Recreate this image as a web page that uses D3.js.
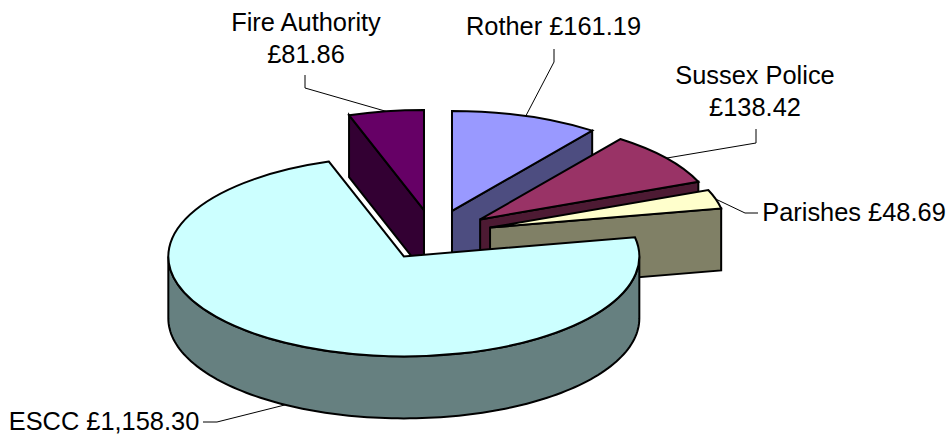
<!DOCTYPE html>
<html>
<head>
<meta charset="utf-8">
<script src="https://cdn.jsdelivr.net/npm/d3@7"></script>
<style>
    html, body { margin: 0; padding: 0; background: #fff; }
    text { font-family: "Liberation Sans", Arial, sans-serif; font-size: 25.4px; fill: #000; }
</style>
</head>
<body>
<div id="chart"></div>
<script>
const names = ['Rother', 'Sussex Police', 'Parishes', 'ESCC', 'Fire Authority'];
const values = [161.19, 138.42, 48.69, 1158.30, 81.86];
const topColors = ['#9999ff', '#993366', '#ffffcc', '#ccffff', '#660066'];
const sideColors = ['#4d4d80', '#4d1a33', '#808066', '#668080', '#330033'];

// label lines (one entry per slice) and where the leader bends
const labelLines = [
    ['Rother £161.19'],
    ['Sussex Police', '£138.42'],
    ['Parishes £48.69'],
    ['ESCC £1,158.30'],
    ['Fire Authority', '£81.86']
];
const labelPos = [[553.5, 35], [755, 84], [854, 221], [104, 430], [306, 31]];
const leaderBends = [
    [[554, 49], [554, 62]],
    [[756, 129], [756, 143]],
    [[758, 213], [745, 213]],
    [[203, 422], [217, 422]],
    [[305, 75], [305, 88]]
];

const width = 949;
const height = 435;
const cx = 433.5;
const cy = 234.75;
const rx = 235.5;
const ry = 100;
const depth = 62;
const explode = 59;
const tilt = ry / rx;

const svg = d3.select('#chart')
    .append('svg')
    .attr('width', width)
    .attr('height', height);

const slices = d3.pie().sort(null).startAngle(0).endAngle(2 * Math.PI)(values)
    .map((d, i) => {
        const mid = (d.startAngle + d.endAngle) / 2;
        // exploded apex of the slice
        d.ox = cx + explode * Math.sin(mid);
        d.oy = cy - explode * tilt * Math.cos(mid);
        d.mid = mid;
        d.i = i;
        return d;
    });

const rim = (d, a, drop = 0) => [d.ox + rx * Math.sin(a), d.oy - ry * Math.cos(a) + drop];
const line = d3.line();
const flat = d3.arc().innerRadius(0).outerRadius(rx);

function radialFace(d, a) {
    return line([[d.ox, d.oy], rim(d, a), rim(d, a, depth), [d.ox, d.oy + depth]]) + 'Z';
}

function outerWall(d) {
    const a0 = Math.max(d.startAngle, Math.PI / 2);
    const a1 = Math.min(d.endAngle, 3 * Math.PI / 2);
    if (a1 <= a0) return null;
    const steps = d3.range(0, 121).map(k => a0 + (a1 - a0) * k / 120);
    const top = steps.map(a => rim(d, a));
    const bottom = steps.slice().reverse().map(a => rim(d, a, depth));
    return line(top.concat(bottom)) + 'Z';
}

// back slices first, ESCC sits in front of everything
const order = [4, 0, 1, 2, 3];
const leaders = svg.append('g');

const sliceG = svg.append('g')
    .attr('stroke', '#000')
    .attr('stroke-width', 2)
    .attr('stroke-linejoin', 'miter');

order.forEach(i => {
    const d = slices[i];
    const g = sliceG.append('g').attr('class', 'slice');
    const faces = [];
    if (Math.sin(d.endAngle) > 0.001) faces.push(radialFace(d, d.endAngle));
    if (-Math.sin(d.startAngle) > 0.001) faces.push(radialFace(d, d.startAngle));
    const wall = outerWall(d);
    if (wall) faces.push(wall);

    g.selectAll('path.side')
        .data(faces)
        .join('path')
        .attr('class', 'side')
        .attr('d', f => f)
        .attr('fill', sideColors[i]);

    g.append('path')
        .attr('class', 'top')
        .attr('d', flat(d))
        .attr('transform', `translate(${d.ox},${d.oy}) scale(1,${tilt})`)
        .attr('vector-effect', 'non-scaling-stroke')
        .attr('fill', topColors[i]);
});

// leaders end on the rim at the middle of each slice
slices.forEach((d, i) => {
    const onFront = d.mid > Math.PI / 2 && d.mid < 3 * Math.PI / 2;
    const end = rim(d, d.mid, onFront ? depth : 0);
    leaders.append('path')
        .attr('d', line(leaderBends[i].concat([end])))
        .attr('fill', 'none')
        .attr('stroke', '#000')
        .attr('stroke-width', 1);
});

const labels = svg.append('g')
    .selectAll('text')
    .data(labelLines)
    .join('text')
    .attr('text-anchor', 'middle')
    .attr('x', (d, i) => labelPos[i][0])
    .attr('y', (d, i) => labelPos[i][1]);

labels.selectAll('tspan')
    .data(d => d)
    .join('tspan')
    .attr('x', function () { return this.parentNode.getAttribute('x'); })
    .attr('dy', (d, i) => i === 0 ? 0 : 32)
    .text(d => d);
</script>
</body>
</html>
